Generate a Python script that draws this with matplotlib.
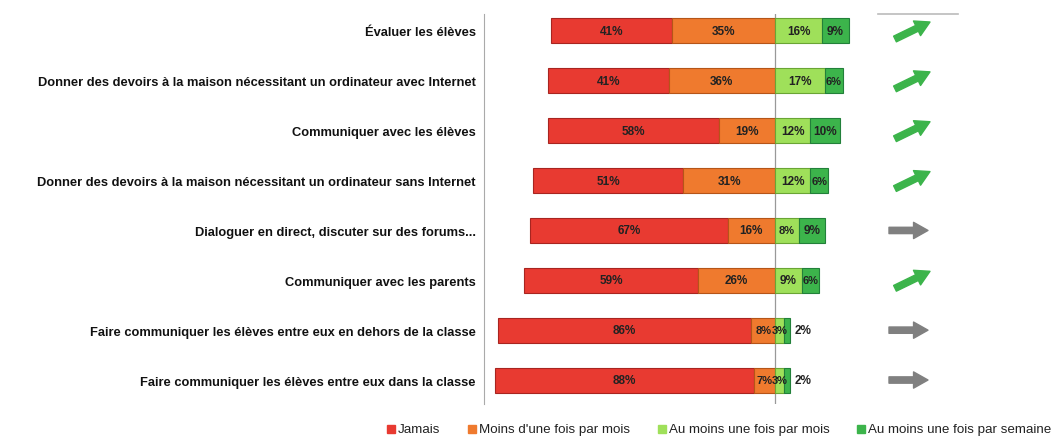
import numpy as np
import matplotlib.pyplot as plt
from matplotlib.patches import Rectangle
from matplotlib.lines import Line2D

plt.rcParams['font.family'] = ['Liberation Sans Narrow', 'Liberation Sans', 'DejaVu Sans']

# --- Data ---
categories = [
    "Évaluer les élèves",
    "Donner des devoirs à la maison nécessitant un ordinateur avec Internet",
    "Communiquer avec les élèves",
    "Donner des devoirs à la maison nécessitant un ordinateur sans Internet",
    "Dialoguer en direct, discuter sur des forums...",
    "Communiquer avec les parents",
    "Faire communiquer les élèves entre eux en dehors de la classe",
    "Faire communiquer les élèves entre eux dans la classe",
]
jamais = [41, 41, 58, 51, 67, 59, 86, 88]
moins_mois = [35, 36, 19, 31, 16, 26, 8, 7]
mois = [16, 17, 12, 12, 8, 9, 3, 3]
semaine = [9, 6, 10, 6, 9, 6, 2, 2]
trends = ['up', 'up', 'up', 'up', 'flat', 'up', 'flat', 'flat']
series_names = ["Jamais", "Moins d'une fois par mois",
                "Au moins une fois par mois", "Au moins une fois par semaine"]
colors = ['#e83a31', '#ef7a2e', '#9fe05a', '#3cb44b']
edges = ['#a82520', '#b55518', '#6aa535', '#22803a']

fig = plt.figure(figsize=(10.58, 4.39), dpi=100)
W, H = 1058, 439
ax = fig.add_axes([484 / W, 1 - 405 / H, (870 - 484) / W, (405 - 15) / H])
ax.set_xlim(-98.6, 32.2)
ax.set_ylim(7.48, -0.34)

y = np.arange(len(categories))
h = 0.5
j = np.array(jamais)
m1 = np.array(moins_mois)
m2 = np.array(mois)
s = np.array(semaine)

lefts = [-(j + m1), -m1, np.zeros(len(y)), m2]
widths = [j, m1, m2, s]
for k in range(4):
    ax.barh(y, widths[k], left=lefts[k], height=h, color=colors[k],
            edgecolor=edges[k], linewidth=0.8, zorder=2)

for i in range(len(y)):
    vals = [j[i], m1[i], m2[i], s[i]]
    for k in range(4):
        v = vals[k]
        cx = lefts[k][i] + widths[k][i] / 2
        fs = 8.5
        if k == 3 and v <= 2:
            cx = lefts[k][i] + widths[k][i] + 4.5
        elif v <= 8:
            fs = 8
        ax.text(cx, y[i], f"{v}%", ha='center', va='center', fontsize=fs,
                fontweight='bold', color='#222222', zorder=3)

# center line
ax.axvline(0, color='#999999', linewidth=0.9, zorder=1)
for sp in ['top', 'right', 'bottom']:
    ax.spines[sp].set_visible(False)
ax.spines['left'].set_color('#aaaaaa')
ax.set_xticks([])
ax.set_yticks(y)
ax.set_yticklabels(categories, fontsize=9.3, fontweight='bold', color='#111111')
ax.tick_params(axis='y', length=0, pad=6)

# trend arrows column
fig.add_artist(Line2D([878 / W, 958 / W], [1 - 15 / H, 1 - 15 / H],
                      color='#bbbbbb', linewidth=1.2))
for i, t in enumerate(trends):
    yc = H - (32 + i * 49.86)
    if t == 'up':
        start, end, col = (895, yc - 8), (930, yc + 9), '#3cb44b'
    else:
        start, end, col = (889, yc), (928, yc), '#808080'
    ax.annotate('', xy=end, xytext=start, xycoords='figure pixels',
                textcoords='figure pixels', annotation_clip=False,
                arrowprops=dict(arrowstyle='simple,head_width=0.9,head_length=0.8,tail_width=0.35',
                                color=col, shrinkA=0, shrinkB=0, mutation_scale=13))

# legend
leg_x = [387, 468, 658, 857]
for k in range(4):
    fig.add_artist(Rectangle((leg_x[k] / W, 1 - 434 / H), 8 / W, 8 / H,
                             color=colors[k], transform=fig.transFigure))
    fig.text((leg_x[k] + 11) / W, 1 - 430 / H, series_names[k], fontsize=9.6,
             va='center', ha='left', color='#222222')

fig.savefig('out.png', dpi=100)
